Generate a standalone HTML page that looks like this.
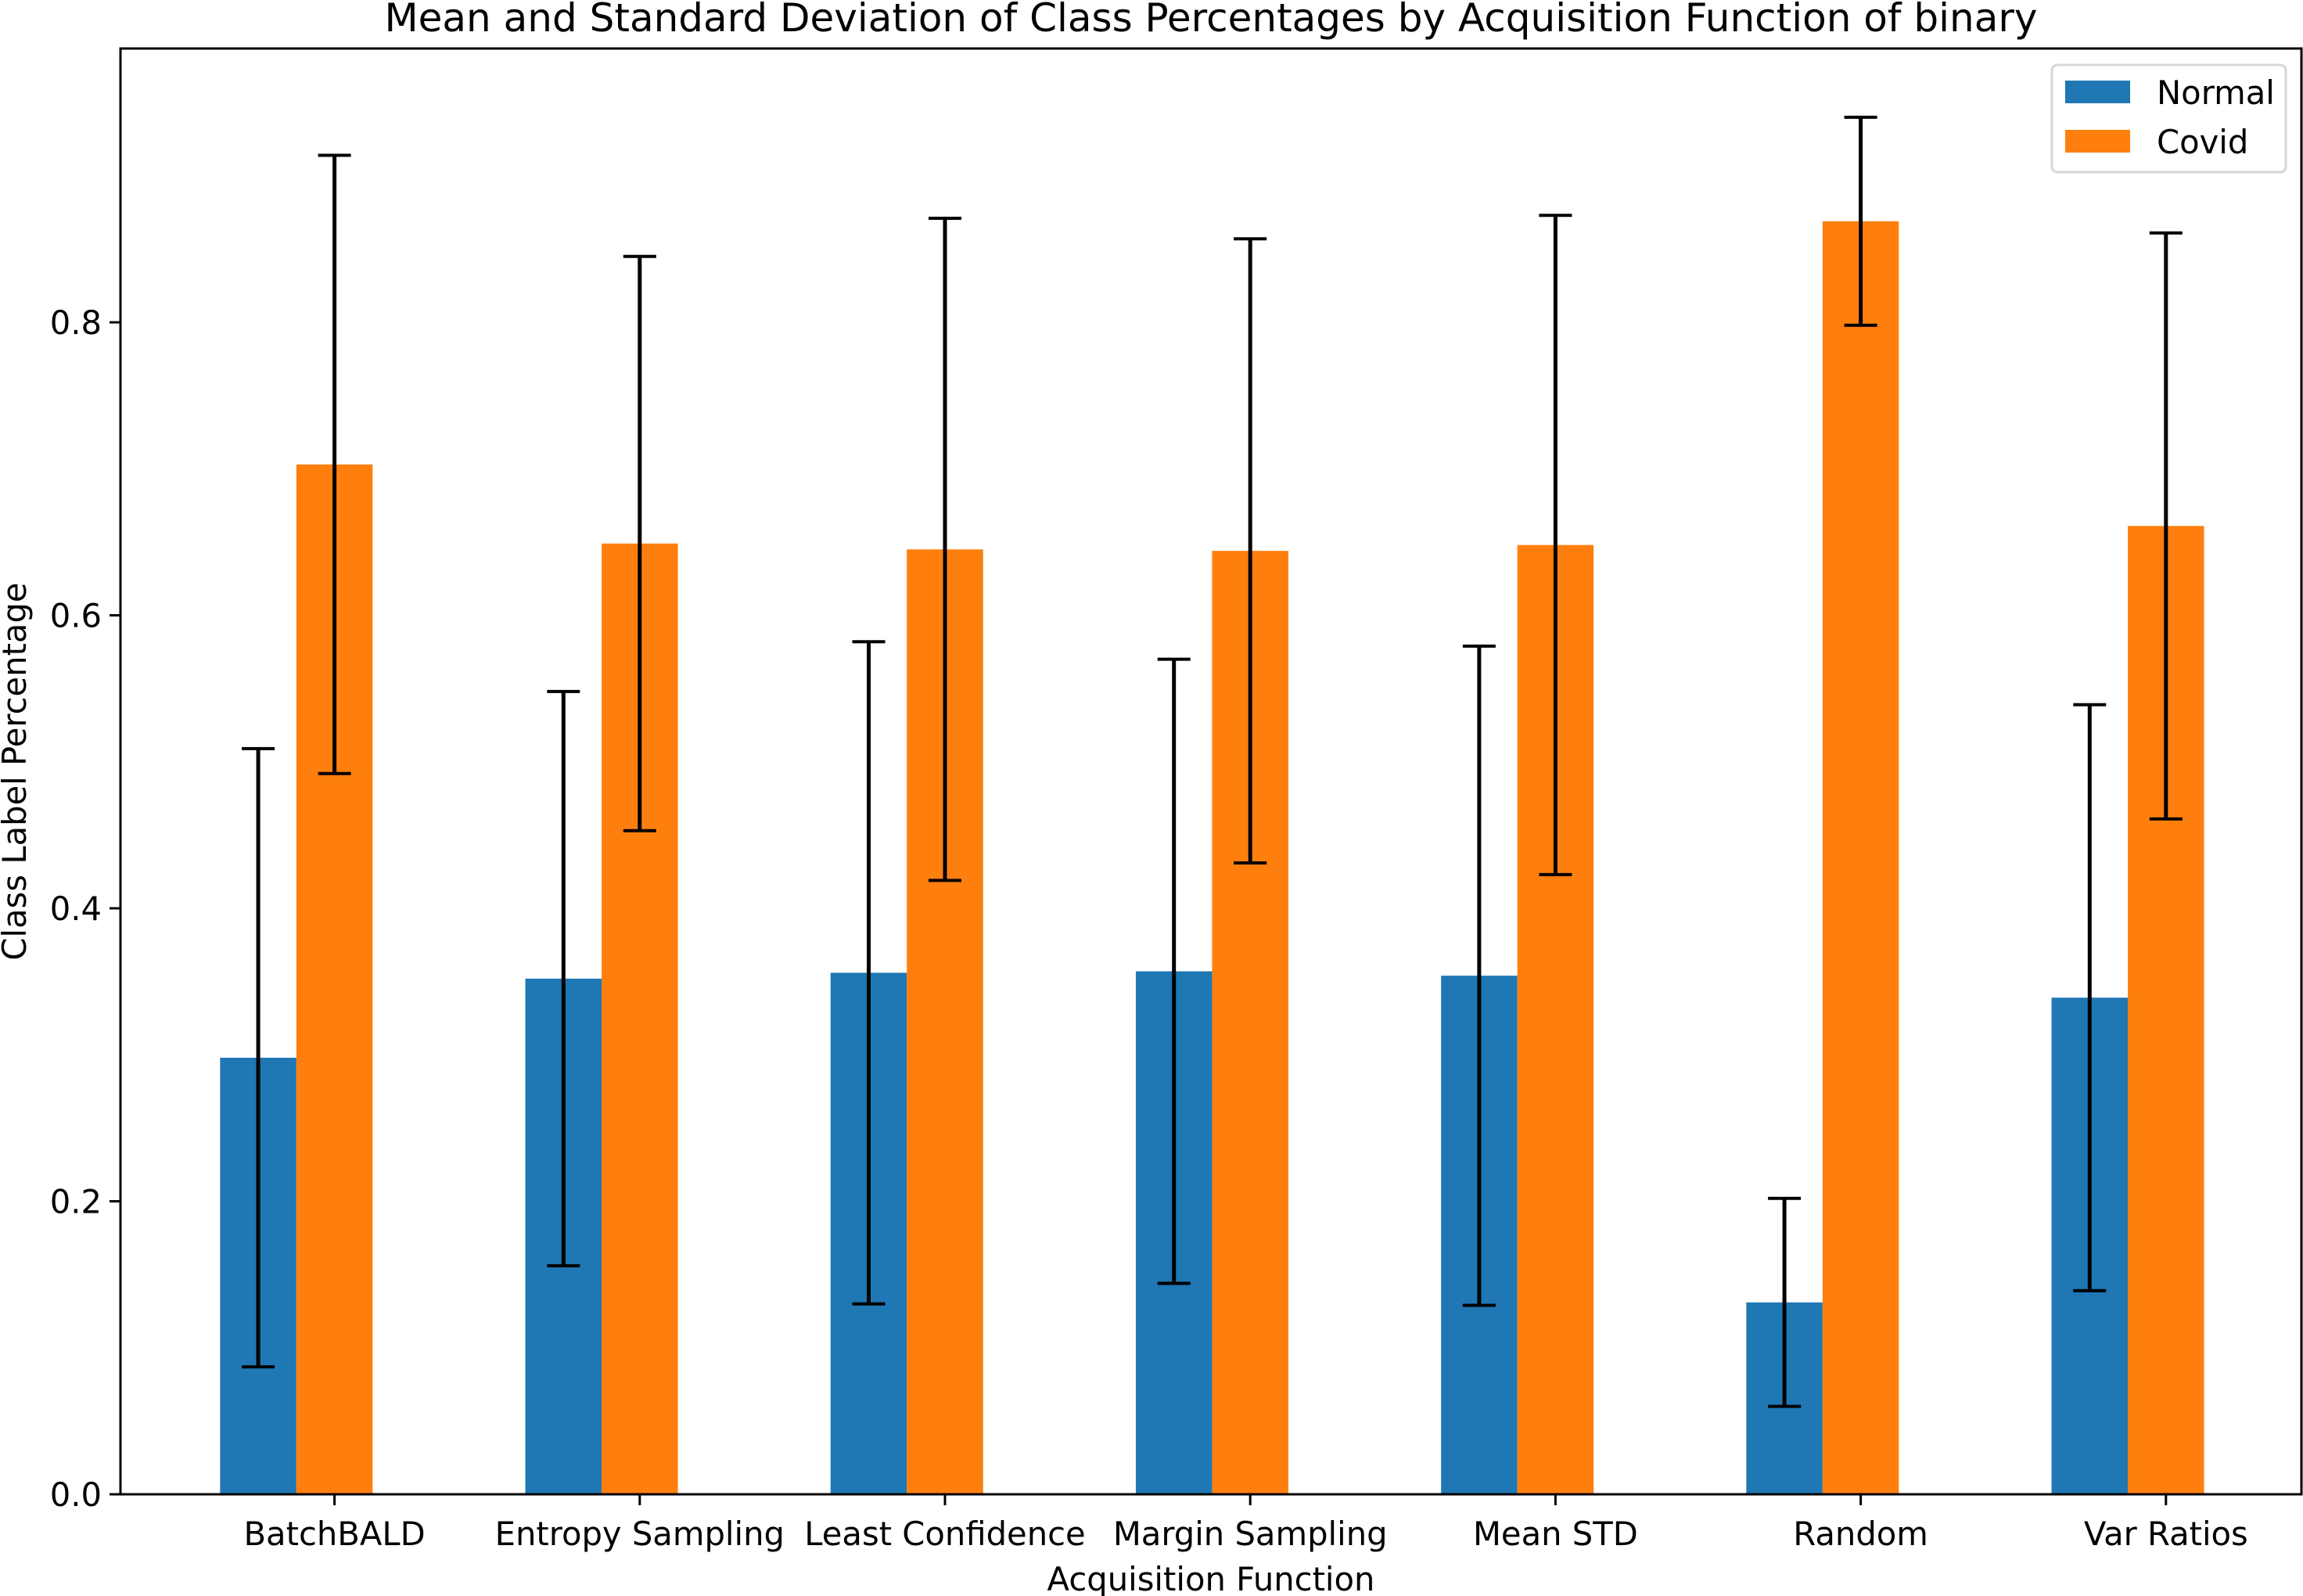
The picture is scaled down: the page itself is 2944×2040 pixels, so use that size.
<!DOCTYPE html>
<html><head><meta charset="utf-8"><style>html,body{margin:0;padding:0;background:#fff}svg{display:block}text{font-family:"DejaVu Sans","Liberation Sans",sans-serif;fill:#000}</style></head>
<body>
<svg id="chart" width="2944" height="2040" viewBox="0 0 2944 2040" xmlns="http://www.w3.org/2000/svg">
<rect width="2944" height="2040" fill="#fff"/>
<g id="plot"></g>
</svg>
<script>
const categories = ["BatchBALD","Entropy Sampling","Least Confidence","Margin Sampling","Mean STD","Random","Var Ratios"];
const normalMean = [0.298,0.352,0.356,0.357,0.354,0.131,0.339];
const normalStd = [0.211,0.196,0.226,0.213,0.225,0.071,0.200];
const covidMean = [0.703,0.649,0.645,0.644,0.648,0.869,0.661];
const covidStd = [0.211,0.196,0.226,0.213,0.225,0.071,0.200];
const yTicks = [0.0,0.2,0.4,0.6,0.8];
const yTickLabels = ["0.0","0.2","0.4","0.6","0.8"];
const seriesNames = ["Normal","Covid"];

const NS="http://www.w3.org/2000/svg";
const g=document.getElementById('plot');
const L=154,R=2942,T=62,B=1910;
const y0=1910, pxPerUnit=(1910-412)/0.8;
function yScale(v){return y0-v*pxPerUnit;}
const x0=427.6, step=390.2, bw=97.5;
function xScale(i){return x0+i*step;}
function el(tag,attrs,parent){const e=document.createElementNS(NS,tag);for(const k in attrs)e.setAttribute(k,attrs[k]);(parent||g).appendChild(e);return e;}
const colors=["#1f77b4","#ff7f0e"];
const means=[normalMean,covidMean], stds=[normalStd,covidStd];
function barCenter(i,s){return xScale(i)+(s===0?-bw:0);}

for(let s=0;s<2;s++){
  for(let i=0;i<categories.length;i++){
    const cx=barCenter(i,s);
    const r=el('rect',{x:cx-bw/2,y:yScale(means[s][i]),width:bw,height:yScale(0)-yScale(means[s][i]),fill:colors[s]});
    
    
  }
}
for(let s=0;s<2;s++){
  for(let i=0;i<categories.length;i++){
    const cx=barCenter(i,s);
    const hi=yScale(means[s][i]+stds[s][i]), lo=yScale(means[s][i]-stds[s][i]);
    const eg=el('g',{stroke:'#000','stroke-width':5});
    
    
    el('line',{x1:cx,x2:cx,y1:hi,y2:lo},eg);
    el('line',{x1:cx-21,x2:cx+21,y1:hi,y2:hi,'stroke-width':4},eg);
    el('line',{x1:cx-21,x2:cx+21,y1:lo,y2:lo,'stroke-width':4},eg);
  }
}
const fr=el('rect',{x:L,y:T,width:R-L,height:B-T,fill:'none',stroke:'#000','stroke-width':3});


for(let k=0;k<yTicks.length;k++){
  const y=yScale(yTicks[k]);
  el('line',{x1:L-14,x2:L,y1:y,y2:y,stroke:'#000','stroke-width':3});
  const t=el('text',{x:L-24,y:y+15,'text-anchor':'end','font-size':41.7});
  t.textContent=yTickLabels[k];
  
  
}
for(let i=0;i<categories.length;i++){
  const x=xScale(i);
  el('line',{x1:x,x2:x,y1:B,y2:B+14,stroke:'#000','stroke-width':3});
  const t=el('text',{x:x,y:1975,'text-anchor':'middle','font-size':41.7});
  t.textContent=categories[i];
  
  
}
let t=el('text',{x:(L+R)/2,y:2033,'text-anchor':'middle','font-size':41.7});
t.textContent="Acquisition Function";


t=el('text',{x:0,y:0,'text-anchor':'middle','font-size':41.7,transform:'translate(33,986) rotate(-90)'});
t.textContent="Class Label Percentage";


t=el('text',{x:(L+R)/2,y:40,'text-anchor':'middle','font-size':50});
t.textContent="Mean and Standard Deviation of Class Percentages by Acquisition Function of binary";


const lg=el('g',{});


el('rect',{x:2623,y:83,width:299,height:137,rx:7,fill:'#fff',stroke:'#d6d6d6','stroke-width':3},lg);
for(let s=0;s<2;s++){
  const yy=103+s*63;
  const p=el('rect',{x:2640,y:yy,width:83,height:29,fill:colors[s]},lg);
  
  
  const lt=el('text',{x:2757,y:yy+30,'font-size':41.7},lg);
  lt.textContent=seriesNames[s];
  
  
}
</script>
</body></html>
